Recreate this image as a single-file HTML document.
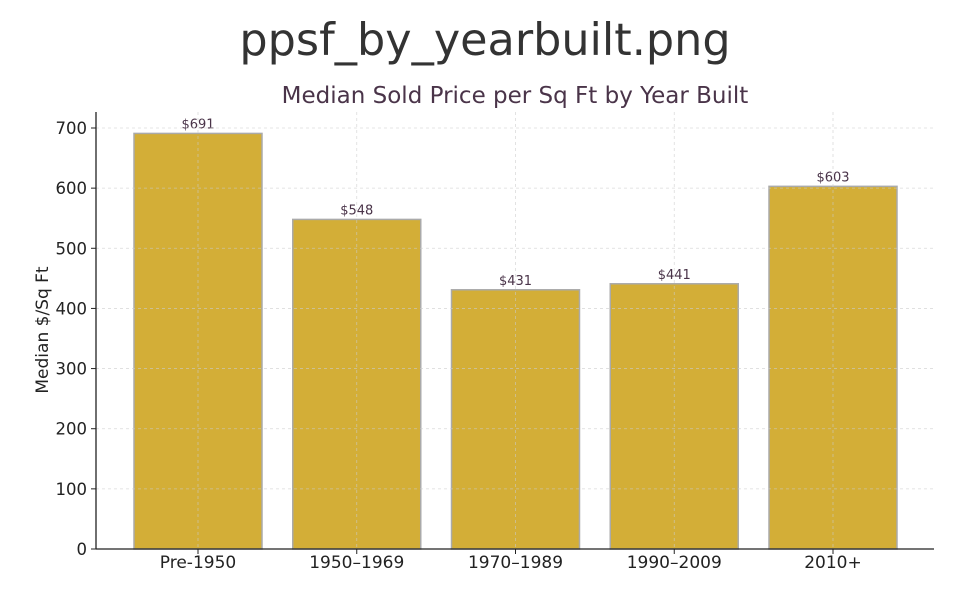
<!DOCTYPE html>
<html><head><meta charset="utf-8"><style>
body{margin:0;background:#fff;font-family:"DejaVu Sans","Liberation Sans",sans-serif;}
</style></head><body>
<svg id="c" width="969" height="607" xmlns="http://www.w3.org/2000/svg">
<text x="485" y="55" text-anchor="middle" font-size="44.5" fill="#333">ppsf_by_yearbuilt.png</text>
<text x="515" y="103" text-anchor="middle" font-size="23" fill="#4a3449">Median Sold Price per Sq Ft by Year Built</text>
<text transform="translate(48,330) rotate(-90)" text-anchor="middle" font-size="17" fill="#222">Median $/Sq Ft</text>
<g id="bars"></g><g id="grid"></g><g id="axes"></g>
</svg>
<script>
const categories=["Pre-1950","1950–1969","1970–1989","1990–2009","2010+"];
const values=[691,548,431,441,603];
const labels=["$691","$548","$431","$441","$603"];
const yTicks=[0,100,200,300,400,500,600,700];
const NS="http://www.w3.org/2000/svg";
const x0=96,x1=934,yb=549,yt=112;
const y=v=>yb-v*(549-128)/700;
const xc=i=>198+i*158.75;
const bw=128;
function mk(t,a,p){const e=document.createElementNS(NS,t);for(const k in a)e.setAttribute(k,a[k]);p.appendChild(e);return e;}
const bars=document.getElementById('bars'),grid=document.getElementById('grid'),axes=document.getElementById('axes');
yTicks.forEach(v=>{
 const l=mk('line',{x1:x0,x2:x1,y1:y(v),y2:y(v),stroke:'#ccc','stroke-dasharray':'3,3','stroke-width':0.8,opacity:0.7},grid);
 
 
 mk('line',{x1:x0-5,x2:x0,y1:y(v),y2:y(v),stroke:'#222'},axes);
 const t=mk('text',{x:x0-9,y:y(v)+6,'text-anchor':'end','font-size':16.5,fill:'#222'},axes);t.textContent=v;
 
 
});
categories.forEach((c,i)=>{
 const r=mk('rect',{x:xc(i)-bw/2,y:y(values[i]),width:bw,height:yb-y(values[i]),fill:'#d3ae37',stroke:'#aaa','stroke-width':1.5},bars);
 
 
 const g=mk('line',{x1:xc(i),x2:xc(i),y1:yt,y2:yb,stroke:'#ccc','stroke-dasharray':'3,3','stroke-width':0.8,opacity:0.7},grid);
 
 
 const vl=mk('text',{x:xc(i),y:y(values[i])-5,'text-anchor':'middle','font-size':13,fill:'#4a3449'},bars);vl.textContent=labels[i];
 
 
 mk('line',{x1:xc(i),x2:xc(i),y1:yb,y2:yb+5,stroke:'#222'},axes);
 const t=mk('text',{x:xc(i),y:yb+19,'text-anchor':'middle','font-size':17,fill:'#222'},axes);t.textContent=c;
 
 
});
mk('line',{x1:x0,x2:x0,y1:yt,y2:yb,stroke:'#222','stroke-width':1.3},axes);
mk('line',{x1:x0,x2:x1,y1:yb,y2:yb,stroke:'#222','stroke-width':1.3},axes);
</script>
</body></html>
